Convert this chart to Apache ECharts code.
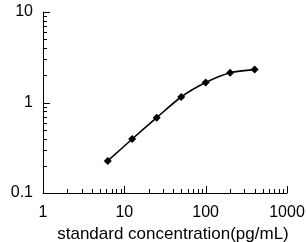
<!DOCTYPE html>
<html><head><meta charset="utf-8">
<script src="https://cdn.jsdelivr.net/npm/echarts@6/dist/echarts.min.js"></script>
<style>html,body{margin:0;padding:0;background:#fff}#c{width:307px;height:242px}</style>
</head><body><div id="c"></div>
<script>
const concentrations = [6.25, 12.5, 25, 50, 100, 200, 400];
const odValues = [0.226, 0.395, 0.68, 1.15, 1.66, 2.13, 2.31];
const xTickLabels = ['1', '10', '100', '1000'];
const yTickLabels = ['0.1', '1', '10'];
const xTitle = 'standard concentration(pg/mL)';
const yTitle = 'O.D(450nm)';

const X_MIN = 1, X_MAX = 1000, Y_MIN = 0.1, Y_MAX = 10;
function ticksFor(lo, hi) {
  const out = [];
  for (let d = lo; d < hi * 0.999; d *= 10) {
    for (let m = 1; m <= 9; m++) out.push({ v: d * m, major: m === 1 });
  }
  out.push({ v: hi, major: true });
  return out;
}
const xTicks = ticksFor(X_MIN, X_MAX);
const yTicks = ticksFor(Y_MIN, Y_MAX);

const FONT = "'Liberation Sans', Arial, sans-serif";
const chart = echarts.init(document.getElementById('c'), null, { renderer: 'canvas' });

const data = concentrations.map((c, i) => [c, odValues[i]]);

chart.setOption({
  animation: false,
  backgroundColor: '#fff',
  grid: { left: 43, right: 20, top: 12, bottom: 49, containLabel: false, outerBoundsMode: 'none' },
  xAxis: {
    type: 'log', logBase: 10, min: X_MIN, max: X_MAX,
    axisLine: { show: true, lineStyle: { color: '#000', width: 1 } },
    axisTick: { show: false },
    splitLine: { show: false },
    axisLabel: {
      color: '#000', fontSize: 16, fontFamily: FONT, margin: 12,
      formatter: v => { const i = Math.round(Math.log10(v / X_MIN)); return xTickLabels[i] ?? ''; }
    },
    name: xTitle, nameLocation: 'middle', nameGap: 24,
    nameTextStyle: { color: '#000', fontSize: 17, fontFamily: FONT, padding: [0, 0, 0, 16] }
  },
  yAxis: {
    type: 'log', logBase: 10, min: Y_MIN, max: Y_MAX,
    axisLine: { show: true, lineStyle: { color: '#000', width: 1 } },
    axisTick: { show: false },
    splitLine: { show: false },
    axisLabel: {
      color: '#000', fontSize: 16, fontFamily: FONT, margin: 10,
      formatter: v => { const i = Math.round(Math.log10(v / Y_MIN)); return yTickLabels[i] ?? ''; }
    },
    name: yTitle, nameLocation: 'middle', nameGap: 22, nameRotate: 90,
    nameTextStyle: { color: '#000', fontSize: 17, fontFamily: FONT, padding: [0, 0, 0, 46] }
  },
  series: [
    {
      type: 'custom', silent: true, clip: false,
      data: xTicks.map(t => [t.v, Y_MIN, t.major ? 1 : 0]),
      renderItem: (params, api) => {
        const p = api.coord([api.value(0), Y_MIN]);
        const len = api.value(2) ? 7 : 4;
        return { type: 'line', shape: { x1: Math.round(p[0]) + 0.5, y1: p[1], x2: Math.round(p[0]) + 0.5, y2: p[1] - len },
          style: { stroke: '#000', lineWidth: 1 } };
      }
    },
    {
      type: 'custom', silent: true, clip: false,
      data: yTicks.map(t => [X_MIN, t.v, t.major ? 1 : 0]),
      renderItem: (params, api) => {
        const p = api.coord([X_MIN, api.value(1)]);
        const len = api.value(2) ? 7 : 4;
        return { type: 'line', shape: { x1: p[0], y1: Math.round(p[1]) + 0.5, x2: p[0] + len, y2: Math.round(p[1]) + 0.5 },
          style: { stroke: '#000', lineWidth: 1 } };
      }
    },
    {
      type: 'line', data: data, smooth: 0.3,
      symbol: 'diamond', symbolSize: 8,
      lineStyle: { color: '#000', width: 1.6 },
      itemStyle: { color: '#000' }
    }
  ]
});
</script></body></html>
